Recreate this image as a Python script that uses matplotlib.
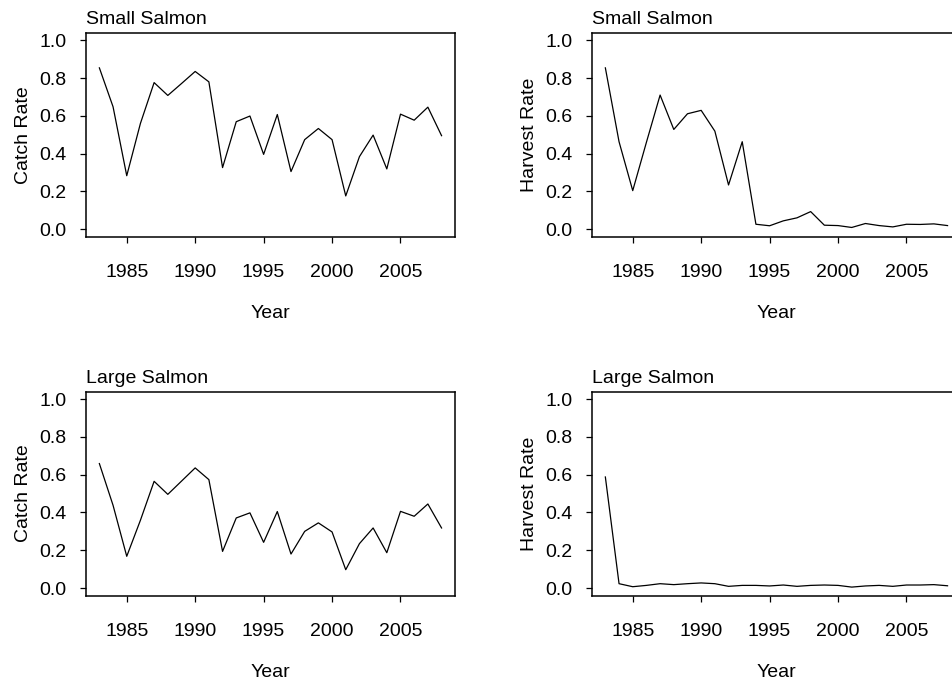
import numpy as np
import matplotlib
matplotlib.use("Agg")
import matplotlib.pyplot as plt

plt.rcParams['font.family'] = ['Liberation Sans', 'DejaVu Sans']

years = list(range(1983, 2009))

# catch rates
small_catch = [0.854, 0.648, 0.283, 0.56, 0.776, 0.708, 0.771, 0.835, 0.78, 0.326,
               0.569, 0.599, 0.396, 0.607, 0.305, 0.474, 0.533, 0.474, 0.176, 0.384,
               0.498, 0.319, 0.609, 0.577, 0.646, 0.495]
large_catch = [0.659, 0.438, 0.168, 0.359, 0.565, 0.496, 0.566, 0.636, 0.574, 0.194,
               0.371, 0.398, 0.242, 0.405, 0.180, 0.300, 0.345, 0.297, 0.097, 0.235,
               0.318, 0.187, 0.406, 0.380, 0.445, 0.318]

# harvest rates
small_harvest = [0.854, 0.463, 0.204, 0.46, 0.71, 0.528, 0.611, 0.629, 0.519, 0.234,
                 0.463, 0.026, 0.018, 0.044, 0.060, 0.093, 0.021, 0.019, 0.009, 0.030,
                 0.019, 0.012, 0.026, 0.025, 0.028, 0.019]
large_harvest = [0.588, 0.023, 0.007, 0.014, 0.023, 0.018, 0.023, 0.027, 0.023, 0.009,
                 0.014, 0.014, 0.011, 0.016, 0.009, 0.014, 0.016, 0.014, 0.005, 0.011,
                 0.014, 0.009, 0.016, 0.016, 0.018, 0.012]

panels = [
    (small_catch, "Small Salmon", "Catch Rate", [0.090, 0.6529]),
    (small_harvest, "Small Salmon", "Harvest Rate", [0.6215, 0.6529]),
    (large_catch, "Large Salmon", "Catch Rate", [0.090, 0.1267]),
    (large_harvest, "Large Salmon", "Harvest Rate", [0.6215, 0.1267]),
]

fs = 14

fig = plt.figure(figsize=(9.52, 6.82), dpi=100)

for vals, title, ylab, (x0, y0) in panels:
    ax = fig.add_axes([x0, y0, 0.3882, 0.2991])
    ax.plot(years, vals, color='black', linewidth=0.9)
    ax.set_xlim(1982, 2009)
    ax.set_ylim(-0.04, 1.04)
    ax.set_xticks([1985, 1990, 1995, 2000, 2005])
    ax.set_yticks([0.0, 0.2, 0.4, 0.6, 0.8, 1.0])
    ax.set_yticklabels(["0.0", "0.2", "0.4", "0.6", "0.8", "1.0"])
    ax.tick_params(axis='both', direction='out', length=4, width=0.9, labelsize=fs)
    ax.tick_params(axis='x', pad=16)
    ax.tick_params(axis='y', pad=10)
    for s in ax.spines.values():
        s.set_linewidth(1.1)
    ax.set_xlabel("Year", fontsize=fs, labelpad=17)
    ax.set_ylabel(ylab, fontsize=fs, labelpad=5)
    ax.set_title(title, loc='left', fontsize=fs, pad=6)

fig.savefig("out.png", dpi=100)
